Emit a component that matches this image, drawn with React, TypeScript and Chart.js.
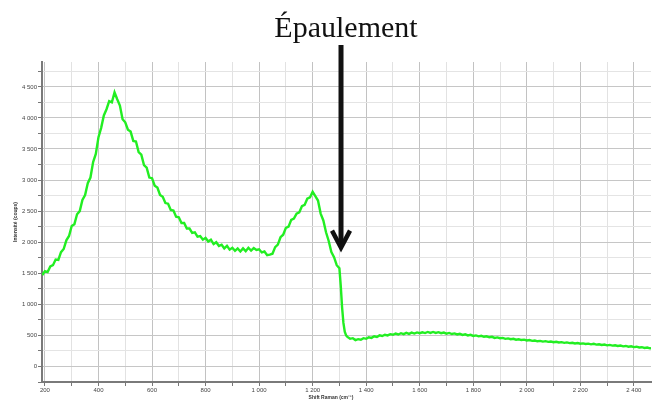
import React, { useEffect, useRef } from "react";
import { Chart, registerables } from "chart.js";

Chart.register(...registerables);

// Raman shift (cm-1)
const shiftX: number[] = [
  190, 200, 210, 220, 230, 240, 250, 260, 270, 280,
  290, 300, 310, 320, 330, 340, 350, 360, 370, 380,
  390, 400, 410, 420, 430, 440, 450, 460, 470, 480,
  490, 500, 510, 520, 530, 540, 550, 560, 570, 580,
  590, 600, 610, 620, 630, 640, 650, 660, 670, 680,
  690, 700, 710, 720, 730, 740, 750, 760, 770, 780,
  790, 800, 810, 820, 830, 840, 850, 860, 870, 880,
  890, 900, 910, 920, 930, 940, 950, 960, 970, 980,
  990, 1000, 1010, 1020, 1030, 1040, 1050, 1060, 1070, 1080,
  1090, 1100, 1110, 1120, 1130, 1140, 1150, 1160, 1170, 1180,
  1190, 1200, 1210, 1220, 1230, 1240, 1250, 1260, 1270, 1280,
  1290, 1300, 1305, 1310, 1315, 1320, 1325, 1330,
  1340, 1350, 1360, 1370, 1380, 1390, 1400, 1410, 1420, 1430,
  1440, 1450, 1460, 1470, 1480, 1490, 1500, 1510, 1520, 1530,
  1540, 1550, 1560, 1570, 1580, 1590, 1600, 1610, 1620, 1630,
  1640, 1650, 1660, 1670, 1680, 1690, 1700, 1710, 1720, 1730,
  1740, 1750, 1760, 1770, 1780, 1790, 1800, 1810, 1820, 1830,
  1840, 1850, 1860, 1870, 1880, 1890, 1900, 1910, 1920, 1930,
  1940, 1950, 1960, 1970, 1980, 1990, 2000, 2010, 2020, 2030,
  2040, 2050, 2060, 2070, 2080, 2090, 2100, 2110, 2120, 2130,
  2140, 2150, 2160, 2170, 2180, 2190, 2200, 2210, 2220, 2230,
  2240, 2250, 2260, 2270, 2280, 2290, 2300, 2310, 2320, 2330,
  2340, 2350, 2360, 2370, 2380, 2390, 2400, 2410, 2420, 2430,
  2440, 2450, 2460, 2467,
];

// Intensité (coups)
const intensity: number[] = [
  1470, 1535, 1520, 1610, 1630, 1720, 1715, 1840, 1890, 2030,
  2100, 2260, 2290, 2450, 2500, 2680, 2760, 2950, 3040, 3290,
  3420, 3690, 3840, 4040, 4140, 4270, 4250, 4410, 4300, 4200,
  3980, 3930, 3810, 3780, 3630, 3620, 3450, 3410, 3240, 3200,
  3040, 3030, 2910, 2880, 2760, 2730, 2630, 2620, 2520, 2510,
  2410, 2400, 2310, 2310, 2220, 2220, 2150, 2160, 2090, 2100,
  2040, 2070, 2010, 2040, 1970, 2000, 1940, 1960, 1900, 1940,
  1880, 1910, 1860, 1900, 1850, 1900, 1855, 1910, 1865, 1905,
  1875, 1885, 1835, 1850, 1790, 1800, 1815, 1920, 1960, 2080,
  2120, 2230, 2250, 2360, 2380, 2460, 2480, 2580, 2600, 2700,
  2720, 2810, 2740, 2670, 2460, 2350, 2160, 2020, 1840, 1760,
  1630, 1580, 1300, 950, 700, 560, 500, 475,
  445, 455, 425, 440, 430, 455, 445, 470, 460, 485,
  475, 500, 490, 510, 500, 520, 510, 530, 515, 535,
  520, 540, 525, 545, 530, 548, 535, 550, 538, 555,
  540, 556, 540, 552, 535, 545, 528, 540, 522, 532,
  515, 525, 508, 518, 500, 510, 492, 500, 485, 494,
  478, 486, 470, 477, 460, 468, 455, 460, 445, 452,
  438, 445, 430, 438, 425, 432, 418, 425, 412, 418,
  405, 412, 400, 408, 396, 402, 390, 397, 386, 392,
  380, 388, 376, 382, 370, 378, 366, 372, 362, 368,
  356, 364, 352, 358, 346, 352, 340, 347, 335, 340,
  330, 336, 324, 330, 318, 324, 312, 318, 305, 310,
  298, 304, 292, 296,
];

const xTickValues: number[] = [
  200, 300, 400, 500, 600, 700, 800, 900, 1000, 1100, 1200, 1300,
  1400, 1500, 1600, 1700, 1800, 1900, 2000, 2100, 2200, 2300, 2400,
];
const xLabelledTicks: number[] = [200, 400, 600, 800, 1000, 1200, 1400, 1600, 1800, 2000, 2200, 2400];

const yTickValues: number[] = [
  -250, 0, 250, 500, 750, 1000, 1250, 1500, 1750, 2000, 2250, 2500, 2750,
  3000, 3250, 3500, 3750, 4000, 4250, 4500, 4750,
];
const yLabelledTicks: number[] = [0, 500, 1000, 1500, 2000, 2500, 3000, 3500, 4000, 4500];

const annotationText = "Épaulement";
const shoulderX = 1306;
const shoulderTipY = 1880;
const xTitle = "Shift Raman (cm⁻¹)";
const yTitle = "Intensité (coups)";

function fmt(v: number): string {
  return String(v).replace(/\B(?=(\d{3})+(?!\d))/g, " ");
}

export default function App() {
  const ref = useRef<HTMLCanvasElement | null>(null);

  useEffect(() => {
    if (!ref.current) return;

    const overlay = {
      id: "overlay",
      afterDatasetsDraw(chart: any) {
        const ctx = chart.ctx;
        const xs = chart.scales.x;
        const ys = chart.scales.y;
        const ax = xs.getPixelForValue(shoulderX);
        const tipY = ys.getPixelForValue(shoulderTipY);
        ctx.save();
        // annotation text
        ctx.fillStyle = "#111";
        ctx.font = '30px "Liberation Serif"';
        ctx.textAlign = "center";
        ctx.textBaseline = "alphabetic";
        ctx.fillText(annotationText, ax + 5, 37);
        // arrow
        ctx.strokeStyle = "#111";
        ctx.lineWidth = 5;
        ctx.lineCap = "butt";
        ctx.beginPath();
        ctx.moveTo(ax, 45);
        ctx.lineTo(ax, tipY - 4);
        ctx.stroke();
        ctx.lineWidth = 4.5;
        ctx.lineJoin = "miter";
        ctx.beginPath();
        ctx.moveTo(ax - 9, tipY - 19);
        ctx.lineTo(ax, tipY - 2);
        ctx.lineTo(ax + 9, tipY - 19);
        ctx.stroke();
        // axis titles
        ctx.fillStyle = "#333";
        ctx.font = 'bold 5px "Liberation Sans"';
        ctx.textAlign = "center";
        ctx.textBaseline = "middle";
        ctx.fillText(xTitle, 331, 398);
        ctx.translate(16, 222);
        ctx.rotate(-Math.PI / 2);
        ctx.fillText(yTitle, 0, 0);
        ctx.restore();
      },
    };

    const chart = new Chart(ref.current, {
      type: "line",
      data: {
        datasets: [
          {
            data: shiftX.map((x, i) => ({ x, y: intensity[i] })),
            borderColor: "#22ee22",
            borderWidth: 2.4,
            pointRadius: 0,
            tension: 0,
            fill: false,
          },
        ],
      },
      options: {
        responsive: false,
        animation: false,
        devicePixelRatio: 1,
        layout: { padding: { top: 62, right: 1, left: 0, bottom: 0 } },
        plugins: { legend: { display: false }, tooltip: { enabled: false }, title: { display: false } },
        scales: {
          x: {
            type: "linear",
            min: 189,
            max: 2464,
            position: "bottom",
            afterBuildTicks: (s: any) => {
              s.ticks = xTickValues.map((v) => ({ value: v }));
            },
            afterFit: (s: any) => {
              s.height = 19;
            },
            grid: {
              color: (c: any) => (c.tick && c.tick.value % 200 === 0 ? "#c2c2c2" : "#e2e2e2"),
              lineWidth: 1,
              tickLength: 4,
              tickColor: "#777",
            },
            border: { color: "#7a7a7a", width: 2 },
            ticks: {
              autoSkip: false,
              maxRotation: 0,
              padding: 1,
              color: "#444",
              font: { family: "Liberation Sans", size: 6 },
              callback: (v: any) => (xLabelledTicks.includes(Number(v)) ? fmt(Number(v)) : ""),
            },
          },
          y: {
            type: "linear",
            min: -250,
            max: 4900,
            afterBuildTicks: (s: any) => {
              s.ticks = yTickValues.map((v) => ({ value: v }));
            },
            afterFit: (s: any) => {
              s.width = 42;
            },
            grid: {
              color: (c: any) => (c.tick && c.tick.value % 500 === 0 ? "#c6c6c6" : "#e4e4e4"),
              lineWidth: 1,
              tickLength: 4,
              tickColor: "#777",
            },
            border: { color: "#7a7a7a", width: 2 },
            ticks: {
              autoSkip: false,
              padding: 1,
              color: "#444",
              font: { family: "Liberation Sans", size: 6 },
              callback: (v: any) => (yLabelledTicks.includes(Number(v)) ? fmt(Number(v)) : ""),
            },
          },
        },
      },
      plugins: [overlay],
    });

    return () => chart.destroy();
  }, []);

  return (
    <div style={{ position: "absolute", left: 0, top: 0, width: 652, height: 401, background: "#fff" }}>
      <canvas ref={ref} width={652} height={401} style={{ display: "block" }} />
    </div>
  );
}
